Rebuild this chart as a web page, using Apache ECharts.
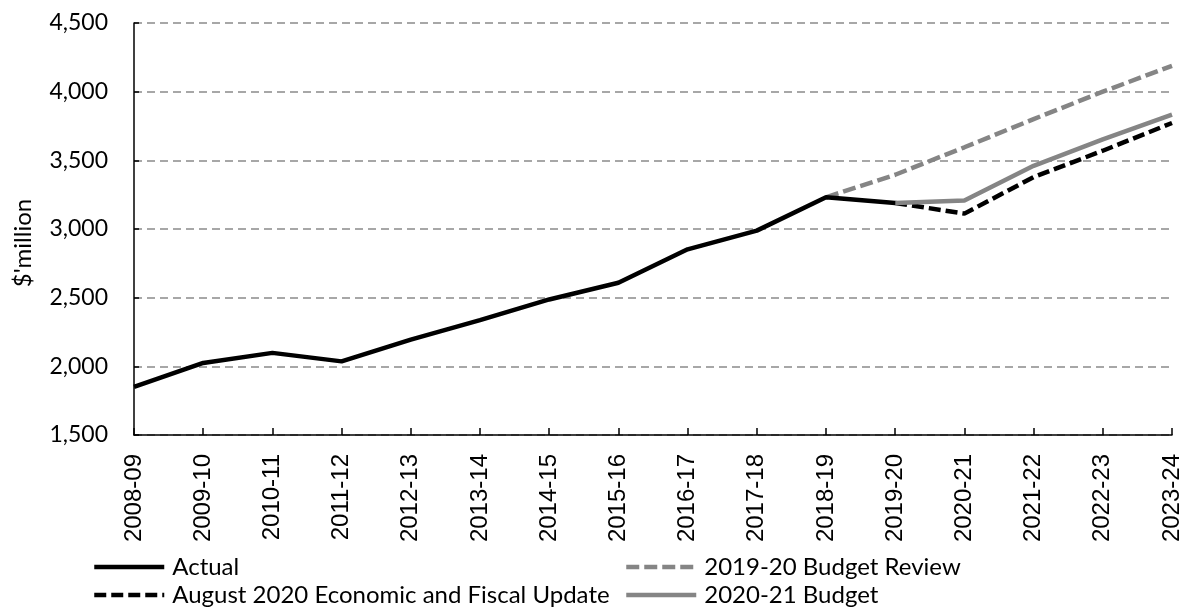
<!DOCTYPE html>
<html>
<head>
<meta charset="utf-8">
<script src="https://cdn.jsdelivr.net/npm/echarts@6/dist/echarts.min.js"></script>
<style>
  html, body { margin: 0; padding: 0; background: #ffffff; }
  #chart { width: 1184px; height: 612px; }
</style>
</head>
<body>
<div id="chart"></div>
<script>
// Financial years on the category axis
const years = ['2008-09', '2009-10', '2010-11', '2011-12', '2012-13', '2013-14', '2014-15', '2015-16',
               '2016-17', '2017-18', '2018-19', '2019-20', '2020-21', '2021-22', '2022-23', '2023-24'];

// $'million
const actual         = [1850, 2025, 2098, 2036, 2195, 2336, 2487, 2609, 2852, 2988, 3231, 3190, null, null, null, null];
const budgetReview   = [null, null, null, null, null, null, null, null, null, null, 3231, 3395, 3595, 3800, 4000, 4188];
const augustUpdate   = [null, null, null, null, null, null, null, null, null, null, null, 3190, 3112, 3378, 3570, 3772];
const budget2020     = [null, null, null, null, null, null, null, null, null, null, null, 3190, 3208, 3460, 3652, 3832];

const yTicks = { min: 1500, max: 4500, step: 500 };

const BLACK = '#000000';
const GREY = '#858585';
const LABEL_FONT = 'Lato';

function fmtThousands(v) {
  return String(v).replace(/\B(?=(\d{3})+(?!\d))/g, ',');
}

// one legend entry per block so the two columns line up
function legendAt(name, left, top) {
  return {
    data: [name],
    left: left,
    top: top,
    orient: 'horizontal',
    itemWidth: 70,
    itemHeight: 4,
    itemGap: 0,
    lineStyle: { width: 4.5 },
    itemStyle: { opacity: 0 },
    textStyle: { fontFamily: LABEL_FONT, fontSize: 24, color: '#000', padding: [0, 0, 0, 3] },
    selectedMode: false
  };
}

const chart = echarts.init(document.getElementById('chart'), null, { renderer: 'canvas' });

chart.setOption({
  animation: false,
  backgroundColor: '#ffffff',
  grid: { left: 134, right: 12, top: 23, bottom: 177, containLabel: false, outerBoundsMode: 'none' },
  legend: [
    legendAt('Actual', 87, 550),
    legendAt('2019-20 Budget Review', 619, 550),
    legendAt('August 2020 Economic and Fiscal Update', 87, 578),
    legendAt('2020-21 Budget', 619, 578)
  ],
  xAxis: {
    type: 'category',
    data: years,
    boundaryGap: false,
    axisLine: { show: true, lineStyle: { color: BLACK, width: 1.5 } },
    axisTick: { show: true, inside: true, length: 7, alignWithLabel: true, lineStyle: { color: BLACK, width: 1.5 } },
    axisLabel: { rotate: 90, margin: 19, fontFamily: 'Liberation Sans', fontSize: 24, color: '#000' },
    splitLine: { show: false }
  },
  yAxis: {
    type: 'value',
    min: yTicks.min,
    max: yTicks.max,
    interval: yTicks.step,
    name: "$'million",
    nameLocation: 'middle',
    nameGap: 99,
    nameRotate: 90,
    nameTextStyle: { fontFamily: LABEL_FONT, fontSize: 24, color: '#000', padding: [0, 28, 0, 0] },
    axisLine: { show: true, lineStyle: { color: BLACK, width: 1.5 } },
    axisTick: { show: true, inside: true, length: 5, lineStyle: { color: BLACK, width: 1.5 } },
    axisLabel: { margin: 26, fontFamily: LABEL_FONT, fontSize: 23, color: '#000', formatter: fmtThousands },
    splitLine: { show: true, lineStyle: { color: '#8a8a8a', width: 1.5, type: [8, 5] } }
  },
  series: [
    {
      name: '2019-20 Budget Review', type: 'line', data: budgetReview, symbol: 'none', z: 2,
      lineStyle: { color: GREY, width: 4.5, type: [13, 5], cap: 'butt' }, itemStyle: { color: GREY }
    },
    {
      name: 'August 2020 Economic and Fiscal Update', type: 'line', data: augustUpdate, symbol: 'none', z: 3,
      lineStyle: { color: BLACK, width: 4.5, type: [12, 5], cap: 'butt' }, itemStyle: { color: BLACK }
    },
    {
      name: '2020-21 Budget', type: 'line', data: budget2020, symbol: 'none', z: 4,
      lineStyle: { color: GREY, width: 4.5 }, itemStyle: { color: GREY }
    },
    {
      name: 'Actual', type: 'line', data: actual, symbol: 'none', z: 5,
      lineStyle: { color: BLACK, width: 4.5 }, itemStyle: { color: BLACK }
    }
  ]
});
</script>
</body>
</html>
